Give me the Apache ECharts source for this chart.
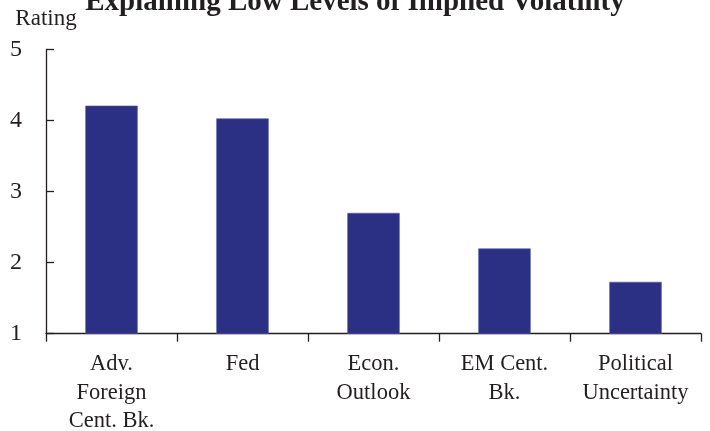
<!DOCTYPE html>
<html>
<head>
<meta charset="utf-8">
<script src="https://cdn.jsdelivr.net/npm/echarts@6/dist/echarts.min.js"></script>
<style>
  html, body { margin: 0; padding: 0; background: #fff; }
  #chart { width: 710px; height: 431px; }
</style>
</head>
<body>
<div id="chart"></div>
<script>
// data
var categories = ['Adv.\nForeign\nCent. Bk.', 'Fed', 'Econ.\nOutlook', 'EM Cent.\nBk.', 'Political\nUncertainty'];
var ratings = [4.21, 4.03, 2.70, 2.20, 1.73];
var yTicks = [1, 2, 3, 4, 5];

var serif = '"Liberation Serif", "DejaVu Serif", serif';
var ink = '#231f20';

var myChart = echarts.init(document.getElementById('chart'));
var option = {
  animation: false,
  textStyle: { fontFamily: serif, color: ink },
  title: {
    text: 'Explaining Low Levels of Implied Volatility',
    left: 'center',
    top: -12,
    padding: 0,
    textStyle: { fontFamily: serif, fontWeight: 'bold', fontSize: 29, color: ink }
  },
  grid: { left: 46, right: 9, top: 49.5, bottom: 97.3, outerBoundsMode: 'none', containLabel: false },
  xAxis: {
    type: 'category',
    data: categories,
    boundaryGap: true,
    axisLine: { lineStyle: { color: ink, width: 1.3 } },
    axisTick: { show: true, length: 8, lineStyle: { color: ink, width: 1.3 } },
    axisLabel: { fontFamily: serif, fontSize: 22.5, lineHeight: 28.7, color: ink, margin: 16, interval: 0 }
  },
  yAxis: {
    type: 'value',
    min: yTicks[0],
    max: yTicks[yTicks.length - 1],
    interval: 1,
    name: 'Rating',
    nameLocation: 'end',
    nameGap: 19,
    nameTextStyle: { fontFamily: serif, fontSize: 23, color: ink },
    splitLine: { show: false },
    axisLine: { show: true, lineStyle: { color: ink, width: 1.3 } },
    axisTick: { show: true, inside: true, length: 8, lineStyle: { color: ink, width: 1.3 } },
    axisLabel: { fontFamily: serif, fontSize: 24, color: ink, margin: 24 }
  },
  series: [{
    type: 'bar',
    data: ratings,
    barWidth: '40%',
    itemStyle: { color: '#2b3085', borderColor: '#5a5fa8', borderWidth: 0.6 }
  }]
};
myChart.setOption(option);
</script>
</body>
</html>
